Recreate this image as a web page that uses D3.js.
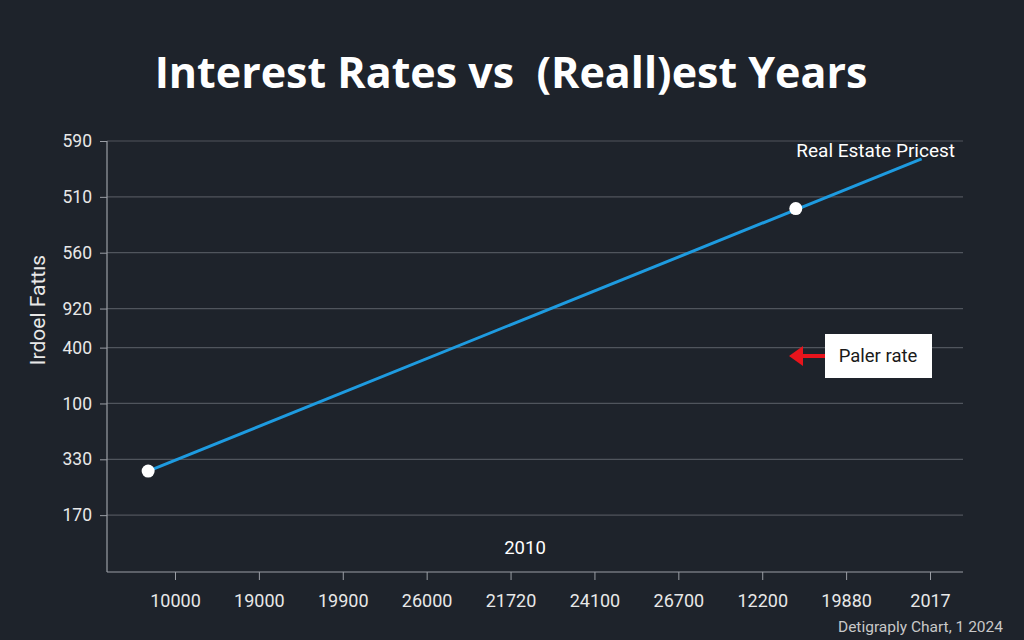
<!DOCTYPE html>
<html><head><meta charset="utf-8">
<script src="https://cdn.jsdelivr.net/npm/d3@7/dist/d3.min.js"></script>
<style>html,body{margin:0;padding:0;background:#1e232b;overflow:hidden}</style>
</head><body>
<svg id="c" width="1024" height="640"></svg>
<script>
// Data
const xTickLabels = ["10000","19000","19900","26000","21720","24100","26700","12200","19880","2017"];
const xTickValues = [0,1,2,3,4,5,6,7,8,9];
const yTickLabels = ["590","510","560","920","400","100","330","170"];
const yTickValues = [7.7,6.7,5.7,4.7,4.0,3.0,2.0,1.0];
const lineX = [-0.32, 8.90];
const lineY = [1.79, 7.38];
const pointX = [-0.32, 7.40];
const pointY = [1.79, 6.49];

(function(){
const svg = d3.select("#c");
const W = 1024, H = 640;
svg.append("rect").attr("width",W).attr("height",H).attr("fill","#1e232b");

const x = d3.scaleLinear().domain([0,9]).range([175,930]);
const y = d3.scaleLinear().domain([0,7.7]).range([571,141]);
const pLeft = 107, pRight = 963, pBottom = 572, pTop = 141;

// gridlines
svg.append("g").selectAll("line").data(yTickValues).join("line")
  .attr("x1",pLeft).attr("x2",pRight)
  .attr("y1",d=>y(d)).attr("y2",d=>y(d))
  .attr("stroke","#50555d").attr("stroke-width",1.2);

// y axis
const yAxis = d3.axisLeft(y).tickValues(yTickValues)
  .tickFormat((d,i)=>yTickLabels[i]).tickSize(7).tickPadding(8);
const gy = svg.append("g").attr("transform",`translate(${pLeft},0)`).call(yAxis);
gy.select(".domain").remove();
gy.append("line").attr("x1",0).attr("x2",0).attr("y1",pTop).attr("y2",pBottom).attr("stroke","#9a9ea5").attr("stroke-width",1.2);
gy.selectAll(".tick line").attr("stroke","#9a9ea5");
gy.selectAll(".tick text").attr("fill","#e8e8e8").style("font-family","Roboto, 'Noto Sans', sans-serif").style("font-size","17.5px");

// x axis
const xAxis = d3.axisBottom(x).tickValues(xTickValues)
  .tickFormat((d,i)=>xTickLabels[i]).tickSize(8).tickPadding(14);
const gx = svg.append("g").attr("transform",`translate(0,${pBottom})`).call(xAxis);
gx.select(".domain").remove();
gx.append("line").attr("x1",pLeft).attr("x2",pRight).attr("y1",0).attr("y2",0).attr("stroke","#9a9ea5").attr("stroke-width",1.2);
gx.selectAll(".tick line").attr("stroke","#9a9ea5").attr("y1",0).attr("y2",8);
gx.selectAll(".tick text").attr("fill","#e8e8e8").style("font-family","Roboto, 'Noto Sans', sans-serif").style("font-size","18px");

// line
const pts = lineX.map((d,i)=>[d,lineY[i]]);
svg.append("path").datum(pts)
  .attr("d", d3.line().x(d=>x(d[0])).y(d=>y(d[1])))
  .attr("fill","none").attr("stroke","#1e9be0").attr("stroke-width",3);

svg.append("g").selectAll("circle").data(pointX.map((d,i)=>[d,pointY[i]])).join("circle")
  .attr("cx",d=>x(d[0])).attr("cy",d=>y(d[1])).attr("r",6.5).attr("fill","#ffffff");

// title
svg.append("text").attr("x",511).attr("y",88).attr("text-anchor","middle")
  .attr("fill","#ffffff").style("font-family","'Open Sans', sans-serif").style("font-weight","700")
  .style("white-space","pre")
  .style("font-size","43px").text("Interest Rates vs  (Reall)est Years");

// y axis title
svg.append("text").attr("transform","translate(45,310) rotate(-90)").attr("text-anchor","middle")
  .attr("fill","#e8e8e8").style("font-family","Roboto, sans-serif").style("font-size","21px")
  .text("Irdoel Fattıs");

// series label
svg.append("text").attr("x",955).attr("y",157).attr("text-anchor","end")
  .attr("fill","#ffffff").style("font-family","Roboto, sans-serif").style("font-size","19px")
  .text("Real Estate Pricest");

// 2010 label
svg.append("text").attr("x",525).attr("y",554).attr("text-anchor","middle")
  .attr("fill","#ffffff").style("font-family","Roboto, sans-serif").style("font-size","18.5px")
  .text("2010");

// callout
svg.append("line").attr("x1",826).attr("x2",800).attr("y1",356).attr("y2",356)
  .attr("stroke","#e8141c").attr("stroke-width",4);
svg.append("path").attr("d","M789,356 L803,346 L803,366 Z").attr("fill","#e8141c");
svg.append("rect").attr("x",825).attr("y",334).attr("width",107).attr("height",44).attr("fill","#ffffff");
svg.append("text").attr("x",878).attr("y",362).attr("text-anchor","middle")
  .attr("fill","#1a1a1a").style("font-family","Roboto, sans-serif").style("font-size","18.5px")
  .text("Paler rate");

// footer
svg.append("text").attr("x",1003).attr("y",632).attr("text-anchor","end")
  .attr("fill","#c8c8c8").style("font-family","Roboto, sans-serif").style("font-size","15.5px")
  .text("Detigraply Chart, 1 2024");
})();
</script>
</body></html>
